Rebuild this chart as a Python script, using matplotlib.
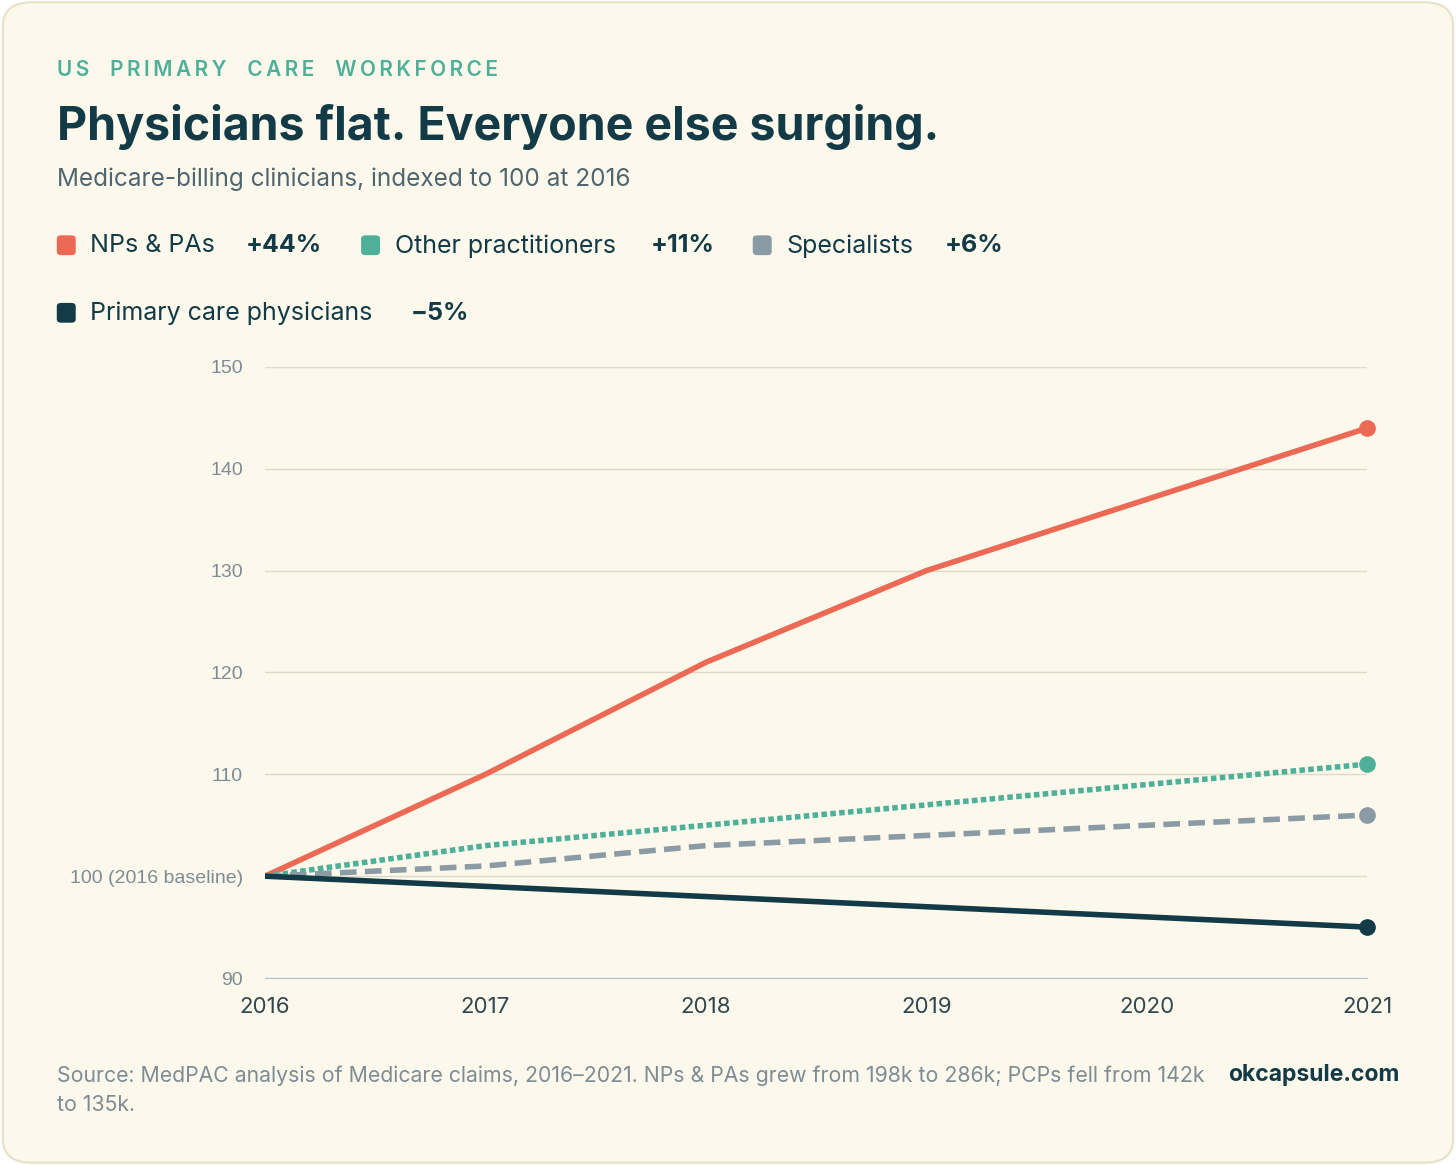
import matplotlib.pyplot as plt
from matplotlib.patches import FancyBboxPatch

plt.rcParams['font.family'] = ['Inter', 'DejaVu Sans']

years = [2016, 2017, 2018, 2019, 2020, 2021]
np_pa = [100, 110, 121, 130, 137, 144]
other = [100, 103, 105, 107, 109, 111]
specialists = [100, 101, 103, 104, 105, 106]
pcp = [100, 99, 98, 97, 96, 95]

c_np = '#ec6a55'
c_other = '#4fb09a'
c_spec = '#8a9ba5'
c_pcp = '#123a47'
bg = '#fcf9ec'
grid = '#dcdac8'

fig = plt.figure(figsize=(14.56, 11.65), dpi=100)
fig.patch.set_facecolor('white')
fig.patches.append(FancyBboxPatch((0.002, 0.002), 0.996, 0.996, boxstyle='round,pad=0,rounding_size=0.02',
                                  transform=fig.transFigure, facecolor=bg, edgecolor='#e6e2c8', lw=1.5,
                                  zorder=-10))

ax = fig.add_axes([0.182, 0.1605, 0.757, 0.5245])
ax.set_facecolor('none')

ax.plot(years, np_pa, color=c_np, lw=4, solid_capstyle='round')
ax.plot(years, other, color=c_other, lw=4, linestyle=(0, (1, 0.6)))
ax.plot(years, specialists, color=c_spec, lw=4, linestyle=(0, (3, 1.5)))
ax.plot(years, pcp, color=c_pcp, lw=4, solid_capstyle='round')
for vals, c in [(np_pa, c_np), (other, c_other), (specialists, c_spec), (pcp, c_pcp)]:
    ax.plot(years[-1], vals[-1], 'o', ms=11, color=c, clip_on=False, zorder=5)

ax.set_xlim(2016, 2021)
ax.set_ylim(90, 150)
ax.set_yticks([90, 100, 110, 120, 130, 140, 150])
ax.set_yticklabels(['90', '100 (2016 baseline)', '110', '120', '130', '140', '150'],
                   family=['Liberation Sans', 'DejaVu Sans'])
ax.set_xticks(years)
ax.tick_params(axis='y', length=0, labelsize=14, labelcolor='#7d8c95', pad=16)
ax.tick_params(axis='x', length=0, labelsize=16, labelcolor='#2d4650', pad=14)
ax.grid(axis='y', color=grid, lw=1)
ax.set_axisbelow(True)
for s in ['top', 'right', 'left']:
    ax.spines[s].set_visible(False)
ax.spines['bottom'].set_color('#b8c3c8')

fig.text(0.039, 0.935, 'U S   P R I M A R Y   C A R E   W O R K F O R C E'.replace('   ', '\u2003').replace(' ', '\u2009'),
         fontsize=15, color=c_other, weight='semibold')
fig.text(0.039, 0.880, 'Physicians flat. Everyone else surging.', fontsize=33.5, color=c_pcp, weight='bold')
fig.text(0.039, 0.840, 'Medicare-billing clinicians, indexed to 100 at 2016', fontsize=17.5, color='#4f6570')

legend = [
    (0.039, 0.789, c_np, 'NPs & PAs', 0.169, '+44%'),
    (0.248, 0.789, c_other, 'Other practitioners', 0.447, '+11%'),
    (0.517, 0.789, c_spec, 'Specialists', 0.649, '+6%'),
    (0.039, 0.731, c_pcp, 'Primary care physicians', 0.282, '\u22125%'),
]
for x, y, c, lab, xv, val in legend:
    fig.patches.append(FancyBboxPatch((x, y - 0.008), 0.013, 0.017, boxstyle='round,pad=0,rounding_size=0.003',
                                      transform=fig.transFigure, facecolor=c, edgecolor='none'))
    fig.text(x + 0.023, y, lab, fontsize=18, color=c_pcp, va='center')
    fig.text(xv, y, val, fontsize=18, color=c_pcp, va='center', weight='bold')

fig.text(0.039, 0.064, 'Source: MedPAC analysis of Medicare claims, 2016\u20132021. NPs & PAs grew from 198k to 286k; PCPs fell from 142k\nto 135k.',
         fontsize=15.3, color='#7d8c95', va='center', linespacing=1.6)
fig.text(0.961, 0.077, 'okcapsule.com', fontsize=16.5, color=c_pcp, weight='bold', ha='right', va='center')

fig.savefig('out.png', dpi=100, facecolor=fig.get_facecolor())
